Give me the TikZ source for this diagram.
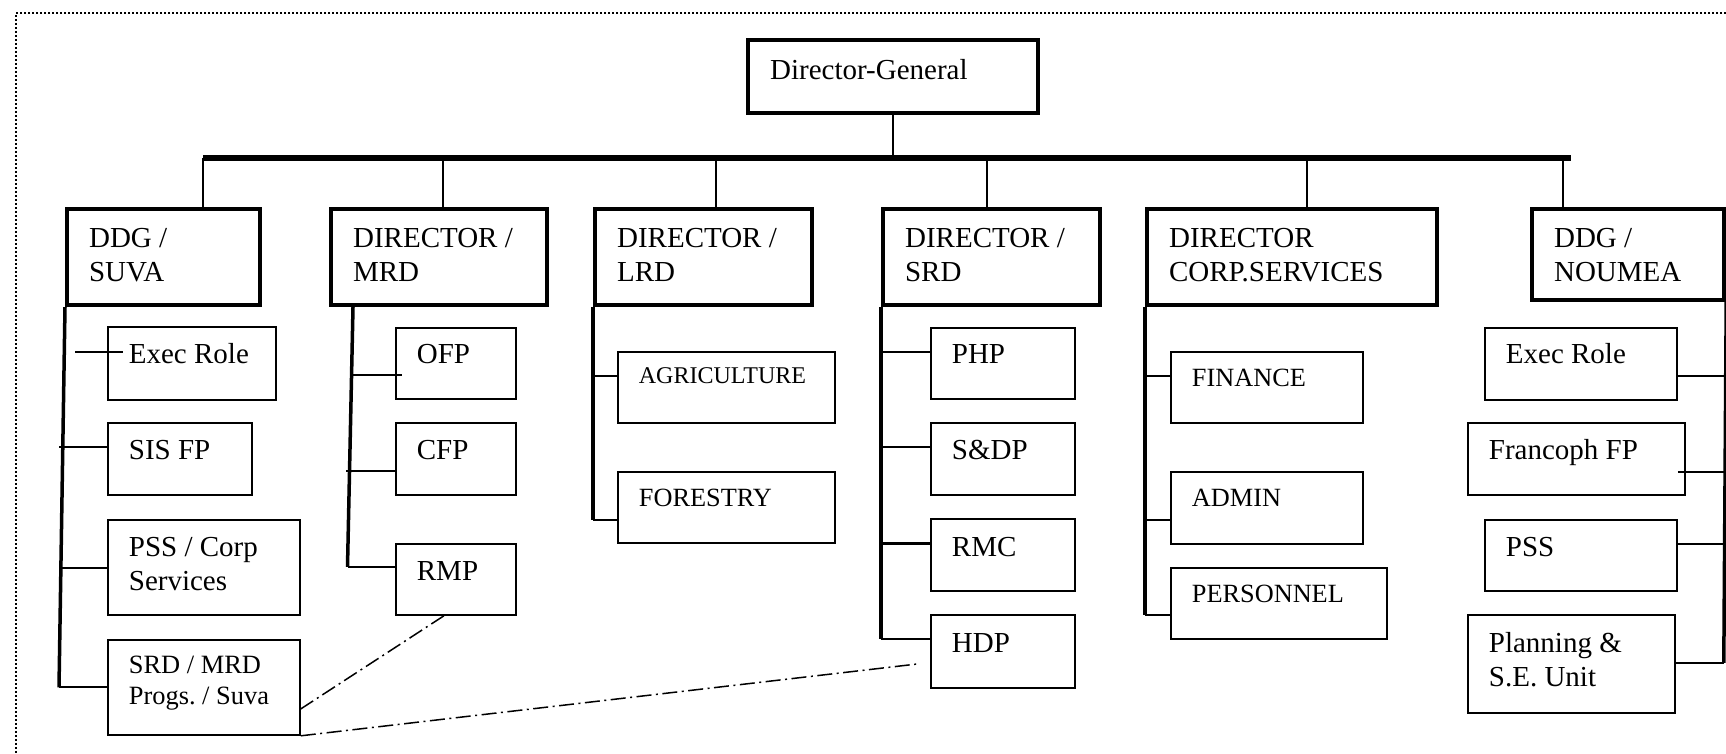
\documentclass[tikz,border=0pt]{standalone}
\usepackage{fontspec}
\setmainfont{Liberation Serif}
\usetikzlibrary{calc}
\begin{document}
\frenchspacing
\begin{tikzpicture}[x=1pt,y=-1pt,
  every node/.style={font=\fontsize{29}{34}\selectfont},
  % width, height, top-to-first-baseline, side padding
  boxdims/.code n args={4}{%
    \pgfmathsetmacro\bxtw{#1-2*#4}%
    \pgfmathsetmacro\bxtd{#2-#3}%
    \edef\bxtmp{\noexpand\tikzset{inner xsep=#4pt, text width=\bxtw pt, text height=#3pt, text depth=\bxtd pt}}%
    \bxtmp},
  headbox/.style n args={3}{draw, line width=4.2pt, anchor=north west, inner ysep=0pt, align=flush left, boxdims={#1}{#2}{#3}{22}},
  subbox/.style n args={3}{draw, line width=1.8pt, anchor=north west, inner ysep=0pt, align=flush left, boxdims={#1}{#2}{#3}{21}},
  smallcaps/.style={font=\fontsize{26.3}{31}\selectfont},
  tinycaps/.style={font=\fontsize{24}{28}\selectfont},
  mainbar/.style={line width=5.5pt},
  drop/.style={line width=2pt},
  trunk/.style={line width=3.5pt},
  branch/.style={line width=2pt},
  dashdot/.style={line width=1.5pt, dash pattern=on 15pt off 4.5pt on 2pt off 4.5pt},
  frame/.style={line width=1.6pt, dash pattern=on 1.6pt off 2.4pt}
]
\useasboundingbox (0,0) rectangle (1726,754);

% outer dotted frame
\draw[frame] (1726,13) -- (16,13) -- (16,754);

% top level
\node[headbox={290}{73}{39}] (dg) at (746,38) {Director-General};

\node[headbox={193}{96}{38}] (suva) at (65,207) {DDG /\\SUVA};
\node[headbox={216}{96}{38}] (mrd) at (329,207) {DIRECTOR /\\MRD};
\node[headbox={217}{96}{38}] (lrd) at (593,207) {DIRECTOR /\\LRD};
\node[headbox={217}{96}{38}] (srd) at (881,207) {DIRECTOR /\\SRD};
\node[headbox={290}{96}{38}] (corp) at (1145,207) {DIRECTOR\\CORP.SERVICES};
\node[headbox={192}{91}{38}] (noumea) at (1530,207) {DDG /\\NOUMEA};

% main bar and drops
\coordinate (barL) at (203,158);
\coordinate (barR) at (1571,158);
\draw[mainbar] (barL) -- (barR);
\draw[drop] (dg.south) -- (dg.south |- barL);
\coordinate (d1) at (203,158);
\coordinate (d2) at (443,158);
\coordinate (d3) at (716,158);
\coordinate (d4) at (987,158);
\coordinate (d5) at (1307,158);
\coordinate (d6) at (1563,158);
\draw[drop] (d1) -- (d1 |- suva.north);
\draw[drop] (d2) -- (d2 |- mrd.north);
\draw[drop] (d3) -- (d3 |- lrd.north);
\draw[drop] (d4) -- (d4 |- srd.north);
\draw[drop] (d5) -- (d5 |- corp.north);
\draw[drop] (d6) -- (d6 |- noumea.north);

% DDG / SUVA units
\node[subbox={168}{73}{37}] (exec1) at (107,326) {Exec Role};
\node[subbox={144}{72}{37}] (sisfp) at (107,422) {SIS FP};
\node[subbox={192}{95}{37}] (psscorp) at (107,519) {PSS / Corp\\Services};
\node[subbox={192}{95}{34}, font=\fontsize{26.4}{30.7}\selectfont] (srdmrd) at (107,639) {SRD / MRD\\Progs. / Suva};

\draw[trunk] (suva.south west) -- ($(srdmrd.west)+(-48,0)$) coordinate (sb);
\draw[branch] (sb) -- (srdmrd.west);
\draw[branch] ($(exec1.west)+(-32,-11.5)$) -- ($(exec1.west)+(16,-11.5)$);
\draw[branch] ($(sisfp.west)+(-48,-12)$) -- ($(sisfp.west)+(0,-12)$);
\draw[branch] ($(psscorp.west)+(-48,0.5)$) -- ($(psscorp.west)+(0,0.5)$);

% DIRECTOR / MRD units
\node[subbox={120}{71}{36}] (ofp) at (395,327) {OFP};
\node[subbox={120}{72}{37}] (cfp) at (395,422) {CFP};
\node[subbox={120}{71}{37}] (rmp) at (395,543) {RMP};

\draw[trunk] ($(mrd.south west)+(24,0)$) -- ($(rmp.west)+(-47.5,-12.5)$) coordinate (mb);
\draw[branch] (mb) -- ($(rmp.west)+(0,-12.5)$);
\draw[branch] ($(ofp.west)+(-42,11.5)$) -- ($(ofp.west)+(7,11.5)$);
\draw[branch] ($(cfp.west)+(-49,12)$) -- ($(cfp.west)+(0,12)$);

% DIRECTOR / LRD units
\node[subbox={217}{71}{32}, tinycaps] (agri) at (617,351) {AGRICULTURE};
\node[subbox={217}{71}{35}, smallcaps] (forestry) at (617,471) {FORESTRY};

\draw[trunk] (lrd.south west) -- ($(forestry.west)+(-24,12.5)$) coordinate (lb);
\draw[branch] (lb) -- ($(forestry.west)+(0,12.5)$);
\draw[branch] ($(agri.west)+(-24,-11.5)$) -- ($(agri.west)+(0,-11.5)$);

% DIRECTOR / SRD units
\node[subbox={144}{71}{36}] (php) at (930,327) {PHP};
\node[subbox={144}{72}{37}] (sdp) at (930,422) {S\&DP};
\node[subbox={144}{72}{38}] (rmc) at (930,518) {RMC};
\node[subbox={144}{73}{38}] (hdp) at (930,614) {HDP};

\draw[trunk] (srd.south west) -- ($(hdp.west)+(-49,-12.5)$) coordinate (rb);
\draw[branch] (rb) -- ($(hdp.west)+(0,-12.5)$);
\draw[branch] ($(php.west)+(-49,-11.5)$) -- ($(php.west)+(0,-11.5)$);
\draw[branch] ($(sdp.west)+(-49,-12)$) -- ($(sdp.west)+(0,-12)$);
\draw[branch, line width=3pt] ($(rmc.west)+(-49,-11)$) -- ($(rmc.west)+(0,-11)$);

% DIRECTOR CORP.SERVICES units
\node[subbox={192}{71}{35}, smallcaps] (finance) at (1170,351) {FINANCE};
\node[subbox={192}{72}{35}, smallcaps] (admin) at (1170,471) {ADMIN};
\node[subbox={216}{71}{35}, smallcaps] (personnel) at (1170,567) {PERSONNEL};

\draw[trunk] (corp.south west) -- ($(personnel.west)+(-25,11.5)$) coordinate (cb);
\draw[branch] (cb) -- ($(personnel.west)+(0,11.5)$);
\draw[branch] ($(finance.west)+(-25,-11.5)$) -- ($(finance.west)+(0,-11.5)$);
\draw[branch] ($(admin.west)+(-25,12)$) -- ($(admin.west)+(0,12)$);

% DDG / NOUMEA units
\node[subbox={192}{72}{36}] (exec2) at (1484,327) {Exec Role};
\node[subbox={217}{72}{37}] (francoph) at (1467,422) {Francoph FP};
\node[subbox={192}{71}{37}] (pss) at (1484,519) {PSS};
\node[subbox={207}{98}{38}] (planning) at (1467,614) {Planning \&\\S.E. Unit};

\draw[trunk] (noumea.south east) -- ($(planning.east)+(48,-1)$) coordinate (nb);
\draw[branch] (nb) -- ($(planning.east)+(0,-1)$);
\draw[branch] ($(exec2.east)+(0,12)$) -- ($(exec2.east)+(46,12)$);
\draw[branch] ($(francoph.east)+(-8,13)$) -- ($(francoph.east)+(38,13)$);
\draw[branch] ($(pss.east)+(0,-11.5)$) -- ($(pss.east)+(46,-11.5)$);

% joint programme links
\draw[dashdot] ($(rmp.south)+(-12,0)$) -- ($(srdmrd.east)+(0,21.5)$);
\draw[dashdot] (srdmrd.south east) -- ($(hdp.west)+(-12,12.5)$);
\end{tikzpicture}
\end{document}
